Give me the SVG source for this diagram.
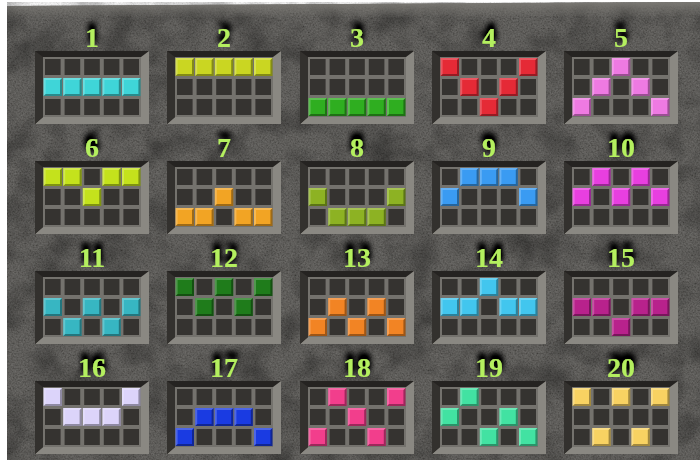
<svg xmlns="http://www.w3.org/2000/svg" xmlns:xlink="http://www.w3.org/1999/xlink" width="700" height="462" viewBox="0 0 700 462">
<style>
.num{font-family:"Liberation Serif","DejaVu Serif",serif;font-weight:bold;font-size:28px;fill:#b4ef5e;text-anchor:middle;filter:url(#glow)}
.k{width:18.4px;height:18px}
</style>
<defs>
<filter id="noise" x="0" y="0" width="100%" height="100%">
<feTurbulence type="fractalNoise" baseFrequency="0.6" numOctaves="4" seed="7"/>
<feColorMatrix type="matrix" values="1 0 0 0 0  1 0 0 0 0  1 0 0 0 0  0 0 0 0 0.28"/>
</filter>
<filter id="mottle" x="0" y="0" width="100%" height="100%">
<feTurbulence type="fractalNoise" baseFrequency="0.03" numOctaves="3" seed="11"/>
<feColorMatrix type="matrix" values="0 0 0 0 0  0 0 0 0 0  0 0 0 0 0  0.7 0 0 0 -0.28"/>
</filter>
<filter id="glow" x="-50%" y="-80%" width="200%" height="220%">
<feGaussianBlur in="SourceAlpha" stdDeviation="3"/>
<feOffset dy="-6"/>
<feComponentTransfer><feFuncA type="linear" slope="2.2"/></feComponentTransfer>
<feMerge><feMergeNode/><feMergeNode in="SourceGraphic"/></feMerge>
</filter>
<linearGradient id="topedge" x1="0" y1="0" x2="0" y2="1">
<stop offset="0" stop-color="#7a7873"/>
<stop offset="1" stop-color="#7a7873" stop-opacity="0"/>
</linearGradient>
<g id="frame">
<rect x="0" y="0" width="114" height="73" fill="#8a8882"/>
<polygon points="0,0 114,0 106,6 8,6 8,66 0,73" fill="#252321"/>
<polygon points="0,0 8,6 8,66 0,73" fill="#33312e"/>
<rect x="8" y="6" width="98" height="60" fill="#74726d"/>
<g fill="#353330">
<rect x="10" y="8" width="15.6" height="16"/><rect x="29.6" y="8" width="15.6" height="16"/><rect x="49.2" y="8" width="15.6" height="16"/><rect x="68.8" y="8" width="15.6" height="16"/><rect x="88.4" y="8" width="15.6" height="16"/>
<rect x="10" y="28" width="15.6" height="16"/><rect x="29.6" y="28" width="15.6" height="16"/><rect x="49.2" y="28" width="15.6" height="16"/><rect x="68.8" y="28" width="15.6" height="16"/><rect x="88.4" y="28" width="15.6" height="16"/>
<rect x="10" y="48" width="15.6" height="16"/><rect x="29.6" y="48" width="15.6" height="16"/><rect x="49.2" y="48" width="15.6" height="16"/><rect x="68.8" y="48" width="15.6" height="16"/><rect x="88.4" y="48" width="15.6" height="16"/>
</g>
</g>
<g id="bev">
<path d="M18.4 0V18H0L2 16H16.4V2Z" fill="#000" fill-opacity="0.35"/>
<path d="M0 0H18.4L16.4 2H2V16L0 18Z" fill="#fff" fill-opacity="0.22"/>
</g>
</defs>

<rect width="700" height="462" fill="#ffffff"/>
<polygon points="7,6 700,2 700,460 7,460" fill="#3a3834"/>
<polygon points="7,6 700,2 700,460 7,460" filter="url(#noise)"/>
<polygon points="7,6 700,2 700,460 7,460" filter="url(#mottle)"/>
<polygon points="7,6 700,2 700,16 7,18" fill="url(#topedge)"/>

<g id="payline-1" transform="translate(35,51)">
<text class="num" x="57" y="-4">1</text>
<use xlink:href="#frame"/>
<g fill="#3fd5d8"><rect class="k" x="8.6" y="27"/><rect class="k" x="28.2" y="27"/><rect class="k" x="47.8" y="27"/><rect class="k" x="67.4" y="27"/><rect class="k" x="87" y="27"/></g>
<use xlink:href="#bev" x="8.6" y="27"/><use xlink:href="#bev" x="28.2" y="27"/><use xlink:href="#bev" x="47.8" y="27"/><use xlink:href="#bev" x="67.4" y="27"/><use xlink:href="#bev" x="87" y="27"/>
</g>
<g id="payline-2" transform="translate(167,51)">
<text class="num" x="57" y="-4">2</text>
<use xlink:href="#frame"/>
<g fill="#cad622"><rect class="k" x="8.6" y="7"/><rect class="k" x="28.2" y="7"/><rect class="k" x="47.8" y="7"/><rect class="k" x="67.4" y="7"/><rect class="k" x="87" y="7"/></g>
<use xlink:href="#bev" x="8.6" y="7"/><use xlink:href="#bev" x="28.2" y="7"/><use xlink:href="#bev" x="47.8" y="7"/><use xlink:href="#bev" x="67.4" y="7"/><use xlink:href="#bev" x="87" y="7"/>
</g>
<g id="payline-3" transform="translate(300,51)">
<text class="num" x="57" y="-4">3</text>
<use xlink:href="#frame"/>
<g fill="#2fae20"><rect class="k" x="8.6" y="47"/><rect class="k" x="28.2" y="47"/><rect class="k" x="47.8" y="47"/><rect class="k" x="67.4" y="47"/><rect class="k" x="87" y="47"/></g>
<use xlink:href="#bev" x="8.6" y="47"/><use xlink:href="#bev" x="28.2" y="47"/><use xlink:href="#bev" x="47.8" y="47"/><use xlink:href="#bev" x="67.4" y="47"/><use xlink:href="#bev" x="87" y="47"/>
</g>
<g id="payline-4" transform="translate(432,51)">
<text class="num" x="57" y="-4">4</text>
<use xlink:href="#frame"/>
<g fill="#e52a36"><rect class="k" x="8.6" y="7"/><rect class="k" x="28.2" y="27"/><rect class="k" x="47.8" y="47"/><rect class="k" x="67.4" y="27"/><rect class="k" x="87" y="7"/></g>
<use xlink:href="#bev" x="8.6" y="7"/><use xlink:href="#bev" x="28.2" y="27"/><use xlink:href="#bev" x="47.8" y="47"/><use xlink:href="#bev" x="67.4" y="27"/><use xlink:href="#bev" x="87" y="7"/>
</g>
<g id="payline-5" transform="translate(564,51)">
<text class="num" x="57" y="-4">5</text>
<use xlink:href="#frame"/>
<g fill="#ee7ae2"><rect class="k" x="8.6" y="47"/><rect class="k" x="28.2" y="27"/><rect class="k" x="47.8" y="7"/><rect class="k" x="67.4" y="27"/><rect class="k" x="87" y="47"/></g>
<use xlink:href="#bev" x="8.6" y="47"/><use xlink:href="#bev" x="28.2" y="27"/><use xlink:href="#bev" x="47.8" y="7"/><use xlink:href="#bev" x="67.4" y="27"/><use xlink:href="#bev" x="87" y="47"/>
</g>

<g id="payline-6" transform="translate(35,161)">
<text class="num" x="57" y="-4">6</text>
<use xlink:href="#frame"/>
<g fill="#c4e21c"><rect class="k" x="8.6" y="7"/><rect class="k" x="28.2" y="7"/><rect class="k" x="47.8" y="27"/><rect class="k" x="67.4" y="7"/><rect class="k" x="87" y="7"/></g>
<use xlink:href="#bev" x="8.6" y="7"/><use xlink:href="#bev" x="28.2" y="7"/><use xlink:href="#bev" x="47.8" y="27"/><use xlink:href="#bev" x="67.4" y="7"/><use xlink:href="#bev" x="87" y="7"/>
</g>
<g id="payline-7" transform="translate(167,161)">
<text class="num" x="57" y="-4">7</text>
<use xlink:href="#frame"/>
<g fill="#f2a424"><rect class="k" x="8.6" y="47"/><rect class="k" x="28.2" y="47"/><rect class="k" x="47.8" y="27"/><rect class="k" x="67.4" y="47"/><rect class="k" x="87" y="47"/></g>
<use xlink:href="#bev" x="8.6" y="47"/><use xlink:href="#bev" x="28.2" y="47"/><use xlink:href="#bev" x="47.8" y="27"/><use xlink:href="#bev" x="67.4" y="47"/><use xlink:href="#bev" x="87" y="47"/>
</g>
<g id="payline-8" transform="translate(300,161)">
<text class="num" x="57" y="-4">8</text>
<use xlink:href="#frame"/>
<g fill="#8db223"><rect class="k" x="8.6" y="27"/><rect class="k" x="28.2" y="47"/><rect class="k" x="47.8" y="47"/><rect class="k" x="67.4" y="47"/><rect class="k" x="87" y="27"/></g>
<use xlink:href="#bev" x="8.6" y="27"/><use xlink:href="#bev" x="28.2" y="47"/><use xlink:href="#bev" x="47.8" y="47"/><use xlink:href="#bev" x="67.4" y="47"/><use xlink:href="#bev" x="87" y="27"/>
</g>
<g id="payline-9" transform="translate(432,161)">
<text class="num" x="57" y="-4">9</text>
<use xlink:href="#frame"/>
<g fill="#3a9bf2"><rect class="k" x="8.6" y="27"/><rect class="k" x="28.2" y="7"/><rect class="k" x="47.8" y="7"/><rect class="k" x="67.4" y="7"/><rect class="k" x="87" y="27"/></g>
<use xlink:href="#bev" x="8.6" y="27"/><use xlink:href="#bev" x="28.2" y="7"/><use xlink:href="#bev" x="47.8" y="7"/><use xlink:href="#bev" x="67.4" y="7"/><use xlink:href="#bev" x="87" y="27"/>
</g>
<g id="payline-10" transform="translate(564,161)">
<text class="num" x="57" y="-4">10</text>
<use xlink:href="#frame"/>
<g fill="#e83fe0"><rect class="k" x="8.6" y="27"/><rect class="k" x="28.2" y="7"/><rect class="k" x="47.8" y="27"/><rect class="k" x="67.4" y="7"/><rect class="k" x="87" y="27"/></g>
<use xlink:href="#bev" x="8.6" y="27"/><use xlink:href="#bev" x="28.2" y="7"/><use xlink:href="#bev" x="47.8" y="27"/><use xlink:href="#bev" x="67.4" y="7"/><use xlink:href="#bev" x="87" y="27"/>
</g>

<g id="payline-11" transform="translate(35,271)">
<text class="num" x="57" y="-4">11</text>
<use xlink:href="#frame"/>
<g fill="#37b6c2"><rect class="k" x="8.6" y="27"/><rect class="k" x="28.2" y="47"/><rect class="k" x="47.8" y="27"/><rect class="k" x="67.4" y="47"/><rect class="k" x="87" y="27"/></g>
<use xlink:href="#bev" x="8.6" y="27"/><use xlink:href="#bev" x="28.2" y="47"/><use xlink:href="#bev" x="47.8" y="27"/><use xlink:href="#bev" x="67.4" y="47"/><use xlink:href="#bev" x="87" y="27"/>
</g>
<g id="payline-12" transform="translate(167,271)">
<text class="num" x="57" y="-4">12</text>
<use xlink:href="#frame"/>
<g fill="#1f7c1b"><rect class="k" x="8.6" y="7"/><rect class="k" x="28.2" y="27"/><rect class="k" x="47.8" y="7"/><rect class="k" x="67.4" y="27"/><rect class="k" x="87" y="7"/></g>
<use xlink:href="#bev" x="8.6" y="7"/><use xlink:href="#bev" x="28.2" y="27"/><use xlink:href="#bev" x="47.8" y="7"/><use xlink:href="#bev" x="67.4" y="27"/><use xlink:href="#bev" x="87" y="7"/>
</g>
<g id="payline-13" transform="translate(300,271)">
<text class="num" x="57" y="-4">13</text>
<use xlink:href="#frame"/>
<g fill="#f28424"><rect class="k" x="8.6" y="47"/><rect class="k" x="28.2" y="27"/><rect class="k" x="47.8" y="47"/><rect class="k" x="67.4" y="27"/><rect class="k" x="87" y="47"/></g>
<use xlink:href="#bev" x="8.6" y="47"/><use xlink:href="#bev" x="28.2" y="27"/><use xlink:href="#bev" x="47.8" y="47"/><use xlink:href="#bev" x="67.4" y="27"/><use xlink:href="#bev" x="87" y="47"/>
</g>
<g id="payline-14" transform="translate(432,271)">
<text class="num" x="57" y="-4">14</text>
<use xlink:href="#frame"/>
<g fill="#42c6ee"><rect class="k" x="8.6" y="27"/><rect class="k" x="28.2" y="27"/><rect class="k" x="47.8" y="7"/><rect class="k" x="67.4" y="27"/><rect class="k" x="87" y="27"/></g>
<use xlink:href="#bev" x="8.6" y="27"/><use xlink:href="#bev" x="28.2" y="27"/><use xlink:href="#bev" x="47.8" y="7"/><use xlink:href="#bev" x="67.4" y="27"/><use xlink:href="#bev" x="87" y="27"/>
</g>
<g id="payline-15" transform="translate(564,271)">
<text class="num" x="57" y="-4">15</text>
<use xlink:href="#frame"/>
<g fill="#b8228c"><rect class="k" x="8.6" y="27"/><rect class="k" x="28.2" y="27"/><rect class="k" x="47.8" y="47"/><rect class="k" x="67.4" y="27"/><rect class="k" x="87" y="27"/></g>
<use xlink:href="#bev" x="8.6" y="27"/><use xlink:href="#bev" x="28.2" y="27"/><use xlink:href="#bev" x="47.8" y="47"/><use xlink:href="#bev" x="67.4" y="27"/><use xlink:href="#bev" x="87" y="27"/>
</g>

<g id="payline-16" transform="translate(35,381)">
<text class="num" x="57" y="-4">16</text>
<use xlink:href="#frame"/>
<g fill="#dcd4fa"><rect class="k" x="8.6" y="7"/><rect class="k" x="28.2" y="27"/><rect class="k" x="47.8" y="27"/><rect class="k" x="67.4" y="27"/><rect class="k" x="87" y="7"/></g>
<use xlink:href="#bev" x="8.6" y="7"/><use xlink:href="#bev" x="28.2" y="27"/><use xlink:href="#bev" x="47.8" y="27"/><use xlink:href="#bev" x="67.4" y="27"/><use xlink:href="#bev" x="87" y="7"/>
</g>
<g id="payline-17" transform="translate(167,381)">
<text class="num" x="57" y="-4">17</text>
<use xlink:href="#frame"/>
<g fill="#1a3be2"><rect class="k" x="8.6" y="47"/><rect class="k" x="28.2" y="27"/><rect class="k" x="47.8" y="27"/><rect class="k" x="67.4" y="27"/><rect class="k" x="87" y="47"/></g>
<use xlink:href="#bev" x="8.6" y="47"/><use xlink:href="#bev" x="28.2" y="27"/><use xlink:href="#bev" x="47.8" y="27"/><use xlink:href="#bev" x="67.4" y="27"/><use xlink:href="#bev" x="87" y="47"/>
</g>
<g id="payline-18" transform="translate(300,381)">
<text class="num" x="57" y="-4">18</text>
<use xlink:href="#frame"/>
<g fill="#f23e8c"><rect class="k" x="8.6" y="47"/><rect class="k" x="28.2" y="7"/><rect class="k" x="47.8" y="27"/><rect class="k" x="67.4" y="47"/><rect class="k" x="87" y="7"/></g>
<use xlink:href="#bev" x="8.6" y="47"/><use xlink:href="#bev" x="28.2" y="7"/><use xlink:href="#bev" x="47.8" y="27"/><use xlink:href="#bev" x="67.4" y="47"/><use xlink:href="#bev" x="87" y="7"/>
</g>
<g id="payline-19" transform="translate(432,381)">
<text class="num" x="57" y="-4">19</text>
<use xlink:href="#frame"/>
<g fill="#42e2a2"><rect class="k" x="8.6" y="27"/><rect class="k" x="28.2" y="7"/><rect class="k" x="47.8" y="47"/><rect class="k" x="67.4" y="27"/><rect class="k" x="87" y="47"/></g>
<use xlink:href="#bev" x="8.6" y="27"/><use xlink:href="#bev" x="28.2" y="7"/><use xlink:href="#bev" x="47.8" y="47"/><use xlink:href="#bev" x="67.4" y="27"/><use xlink:href="#bev" x="87" y="47"/>
</g>
<g id="payline-20" transform="translate(564,381)">
<text class="num" x="57" y="-4">20</text>
<use xlink:href="#frame"/>
<g fill="#f8d262"><rect class="k" x="8.6" y="7"/><rect class="k" x="28.2" y="47"/><rect class="k" x="47.8" y="7"/><rect class="k" x="67.4" y="47"/><rect class="k" x="87" y="7"/></g>
<use xlink:href="#bev" x="8.6" y="7"/><use xlink:href="#bev" x="28.2" y="47"/><use xlink:href="#bev" x="47.8" y="7"/><use xlink:href="#bev" x="67.4" y="47"/><use xlink:href="#bev" x="87" y="7"/>
</g>
</svg>
